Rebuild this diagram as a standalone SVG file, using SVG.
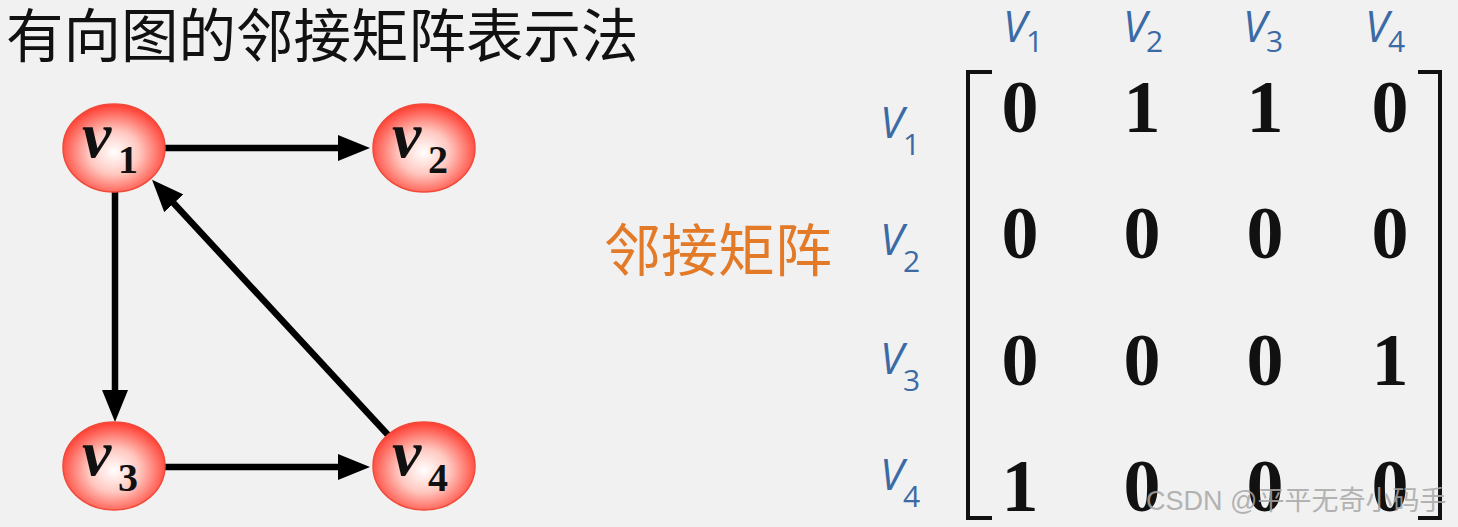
<svg xmlns="http://www.w3.org/2000/svg" width="1458" height="527" viewBox="0 0 1458 527">
<style>
.title{font-family:"Noto Sans CJK SC","Noto Sans",sans-serif;font-size:57.5px;fill:#111}
.orange{font-family:"Noto Sans CJK SC","Noto Sans",sans-serif;font-size:57px;fill:#e37a28}
.nv{font-family:"Liberation Serif",serif;font-weight:bold;font-style:italic;font-size:66px;fill:#111}
.ns{font-family:"Liberation Serif",serif;font-weight:bold;font-size:40px;fill:#111}
.lv{font-family:"Open Sans","Noto Sans",sans-serif;font-style:italic;font-size:43px;fill:#3b6aa5}
.ls{font-family:"Open Sans","Noto Sans",sans-serif;font-size:30px;fill:#3b6aa5}
.num{font-family:"Liberation Serif",serif;font-weight:bold;font-size:74px;fill:#111;text-anchor:middle}
.edge{stroke:#000;stroke-width:6.5;fill:none}
.node{fill:url(#rg);stroke:#f04a3a;stroke-width:1.5}
.br{stroke:#111;stroke-width:4;fill:none}
.wm{font-family:"Liberation Sans","Noto Sans CJK SC",sans-serif;font-size:27px;fill:#a8a8a8;opacity:0.85}
</style>
<defs>
<radialGradient id="rg" cx="50%" cy="55%" r="55%">
<stop offset="0%" stop-color="#ffffff"/>
<stop offset="45%" stop-color="#ffc8c0"/>
<stop offset="100%" stop-color="#ff3b2f"/>
</radialGradient>
<marker id="ah" viewBox="0 0 32 26" refX="10" refY="13" markerWidth="32" markerHeight="26" markerUnits="userSpaceOnUse" orient="auto">
<path d="M0,0 L32,13 L0,26 Z" fill="#000"/>
</marker>
</defs>
<rect width="1458" height="527" fill="#f1f1f1"/>
<text class="title" x="6" y="57">有向图的邻接矩阵表示法</text>
<g id="connectors">
<line class="edge" x1="164" y1="148" x2="348" y2="148" marker-end="url(#ah)"/>
<line class="edge" x1="115" y1="192" x2="115" y2="400" marker-end="url(#ah)"/>
<line class="edge" x1="164" y1="467" x2="348" y2="467" marker-end="url(#ah)"/>
<line class="edge" x1="389" y1="436" x2="167" y2="196" marker-end="url(#ah)"/>
</g>
<g id="v1"><ellipse class="node" cx="114" cy="148" rx="51" ry="44"/><text class="nv" x="82" y="157">v</text><text class="ns" x="118" y="173">1</text></g>
<g id="v2"><ellipse class="node" cx="424" cy="148" rx="51" ry="44"/><text class="nv" x="392" y="157">v</text><text class="ns" x="428" y="173">2</text></g>
<g id="v3"><ellipse class="node" cx="114" cy="466" rx="51" ry="44"/><text class="nv" x="82" y="475">v</text><text class="ns" x="118" y="491">3</text></g>
<g id="v4"><ellipse class="node" cx="424" cy="466" rx="51" ry="44"/><text class="nv" x="392" y="475">v</text><text class="ns" x="428" y="491">4</text></g>
<text class="orange" x="604" y="271">邻接矩阵</text>
<g id="col-headers">
<text class="lv" x="1003" y="42">V</text><text class="ls" x="1026" y="52">1</text>
<text class="lv" x="1123" y="42">V</text><text class="ls" x="1146" y="52">2</text>
<text class="lv" x="1243" y="42">V</text><text class="ls" x="1266" y="52">3</text>
<text class="lv" x="1365" y="42">V</text><text class="ls" x="1388" y="52">4</text>
</g>
<g id="row-headers">
<text class="lv" x="880" y="138">V</text><text class="ls" x="903" y="155">1</text>
<text class="lv" x="880" y="255">V</text><text class="ls" x="903" y="272">2</text>
<text class="lv" x="880" y="374">V</text><text class="ls" x="903" y="391">3</text>
<text class="lv" x="880" y="490">V</text><text class="ls" x="903" y="507">4</text>
</g>
<g id="matrix">
<path class="br" d="M992,72 H968 V518 H992"/>
<path class="br" d="M1418,72 H1440 V518 H1418"/>
<text class="num" x="1020" y="132">0</text><text class="num" x="1142" y="132">1</text><text class="num" x="1265" y="132">1</text><text class="num" x="1390" y="132">0</text>
<text class="num" x="1020" y="258">0</text><text class="num" x="1142" y="258">0</text><text class="num" x="1265" y="258">0</text><text class="num" x="1390" y="258">0</text>
<text class="num" x="1020" y="385">0</text><text class="num" x="1142" y="385">0</text><text class="num" x="1265" y="385">0</text><text class="num" x="1390" y="385">1</text>
<text class="num" x="1020" y="511">1</text><text class="num" x="1142" y="511">0</text><text class="num" x="1265" y="511">0</text><text class="num" x="1390" y="511">0</text>
</g>
<text class="wm" x="1146" y="510">CSDN @平平无奇小码手</text>
</svg>
